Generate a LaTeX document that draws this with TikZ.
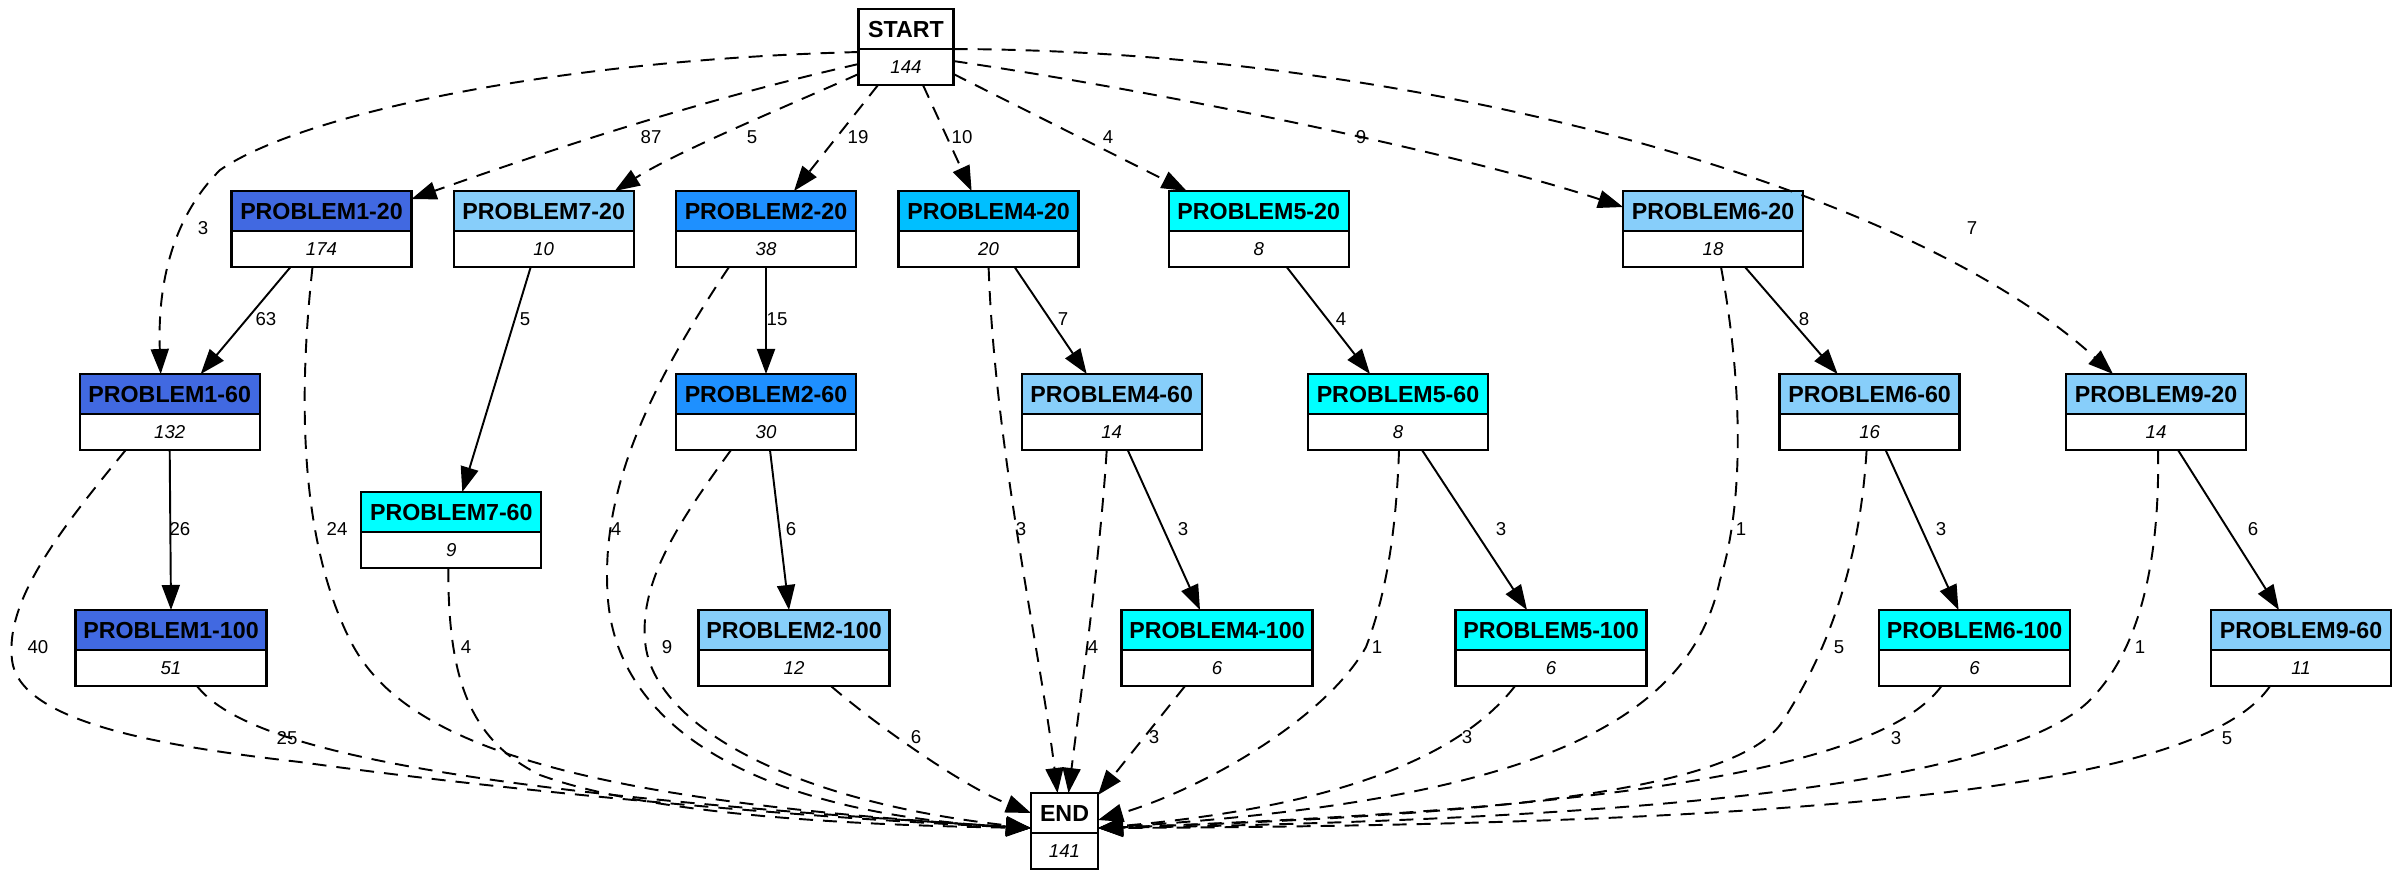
\documentclass[tikz,border=0pt]{standalone}
\usepackage{fontspec}
\setmainfont{Liberation Sans}
\usepackage{tikz}
\usetikzlibrary{arrows.meta,positioning,calc}
\definecolor{royal}{RGB}{65,105,225}
\definecolor{sky}{RGB}{135,206,250}
\definecolor{dodger}{RGB}{30,144,255}
\definecolor{deepsky}{RGB}{0,191,255}
\definecolor{aqua}{RGB}{0,255,255}

\begin{document}
\begin{tikzpicture}[x=0.01cm,y=-0.01cm,
  box/.style={draw,line width=0.65pt,inner sep=0pt,outer sep=0pt,minimum width=#1*0.01cm},
  hdr/.style={box=#1,minimum height=0.40cm,anchor=north,font=\fontsize{6.6}{7}\selectfont\bfseries},
  cnt/.style={box=#1,minimum height=0.36cm,fill=white,font=\fontsize{5.3}{6}\selectfont\itshape},
  elbl/.style={font=\fontsize{5.3}{6}\selectfont,inner sep=0pt},
  flow/.style={line width=0.55pt,-{Triangle[length=0.25cm,width=0.18cm]}},
  skip/.style={flow,dash pattern=on 0.14cm off 0.1cm}]
\useasboundingbox (0,0) rectangle (2400,878);
\foreach \n/\x/\y/\w/\c/\t/\v in {
  start/906/9/95/white/START/144,
  p1-20/321.5/191/180/royal/PROBLEM1-20/174,
  p7-20/543.7/191/180/sky/PROBLEM7-20/10,
  p2-20/766/191/180/dodger/PROBLEM2-20/38,
  p4-20/988.6/191/180/deepsky/PROBLEM4-20/20,
  p5-20/1258.7/191/180/aqua/PROBLEM5-20/8,
  p6-20/1713/191/180/sky/PROBLEM6-20/18,
  p1-60/169.7/374/180/royal/PROBLEM1-60/132,
  p2-60/766/374/180/dodger/PROBLEM2-60/30,
  p4-60/1111.7/374/180/sky/PROBLEM4-60/14,
  p5-60/1398/374/180/aqua/PROBLEM5-60/8,
  p6-60/1869.6/374/180/sky/PROBLEM6-60/16,
  p9-20/2156/374/180/sky/PROBLEM9-20/14,
  p7-60/451.3/492/180/aqua/PROBLEM7-60/9,
  p1-100/171/610/191/royal/PROBLEM1-100/51,
  p2-100/794/610/191/sky/PROBLEM2-100/12,
  p4-100/1217/610/191/aqua/PROBLEM4-100/6,
  p5-100/1551/610/191/aqua/PROBLEM5-100/6,
  p6-100/1974.5/610/191/aqua/PROBLEM6-100/6,
  p9-60/2301/610/180/sky/PROBLEM9-60/11,
  finish/1064.5/793/67/white/END/141}{
  \node[hdr=\w,fill=\c] (\n) at (\x,\y) {\t};
  \node[cnt=\w,below=0pt of \n] (\n-c) {\v};}
\coordinate (inL) at ($(finish.south west)+(0,-5)$);
\coordinate (inR) at ($(finish.south east)+(0,-5)$);
\draw[skip] ($(start-c.north west)+(0,3)$) .. controls (550,60) and (300,115) .. (220,170)
  .. controls (165,225) and (158,300) .. ($(p1-60.north)+(-9,0)$);
\draw[skip] ($(start-c.west)+(0,-3)$) .. controls (700,100) and (550,150) .. ($(p1-20.north east)+(0,8)$);
\draw[skip] ($(start-c.west)+(0,7)$) .. controls (790,105) and (680,150) .. ($(p7-20.north)+(71,0)$);
\draw[skip] ($(start-c.south)+(-28,0)$) -- ($(p2-20.north)+(28,0)$);
\draw[skip] ($(start-c.south)+(17,0)$) -- ($(p4-20.north)+(-17,0)$);
\draw[skip] ($(start-c.east)+(0,7)$) -- ($(p5-20.north)+(-72,0)$);
\draw[skip] ($(start-c.east)+(0,-6)$) .. controls (1150,90) and (1450,150) .. ($(p6-20.west)+(0,-4)$);
\draw[skip] (start-c.north east) .. controls (1400,50) and (1900,180) .. ($(p9-20.north)+(-43,0)$);
\draw[flow] ($(p1-20-c.south)+(-31,0)$) -- ($(p1-60.north)+(31,0)$);
\draw[flow] ($(p7-20-c.south)+(-13,0)$) -- ($(p7-60.north)+(11,0)$);
\draw[flow] (p2-20-c.south) -- (p2-60.north);
\draw[flow] ($(p4-20-c.south)+(26,0)$) -- ($(p4-60.north)+(-25,0)$);
\draw[flow] ($(p5-20-c.south)+(28,0)$) -- ($(p5-60.north)+(-28,0)$);
\draw[flow] ($(p6-20-c.south)+(32,0)$) -- ($(p6-60.north)+(-32,0)$);
\draw[flow] (p1-60-c.south) -- (p1-100.north);
\draw[flow] ($(p2-60-c.south)+(4,0)$) -- ($(p2-100.north)+(-5,0)$);
\draw[flow] ($(p4-60-c.south)+(16,0)$) -- ($(p4-100.north)+(-17,0)$);
\draw[flow] ($(p5-60-c.south)+(24,0)$) -- ($(p5-100.north)+(-24,0)$);
\draw[flow] ($(p6-60-c.south)+(16,0)$) -- ($(p6-100.north)+(-16,0)$);
\draw[flow] ($(p9-20-c.south)+(22,0)$) -- ($(p9-60.north)+(-22,0)$);
\draw[skip] ($(p1-60-c.south)+(-44,0)$) .. controls (60,530) and (5,600) .. (12,660)
  .. controls (19,720) and (150,745) .. (300,762) .. controls (500,790) and (800,818) .. (inL);
\draw[skip] ($(p1-20-c.south)+(-9,0)$) .. controls (298,400) and (300,540) .. (350,640)
  .. controls (400,740) and (560,800) .. (inL);
\draw[skip] ($(p1-100-c.south)+(26,0)$) .. controls (240,740) and (400,790) .. (inL);
\draw[skip] ($(p7-60-c.south)+(-3,0)$) .. controls (448,680) and (470,740) .. (540,775)
  .. controls (650,815) and (850,825) .. (inL);
\draw[skip] ($(p2-20-c.south)+(-37,0)$) .. controls (640,400) and (600,500) .. (608,600)
  .. controls (620,740) and (780,815) .. (inL);
\draw[skip] ($(p2-60-c.south)+(-35,0)$) .. controls (680,520) and (640,580) .. (645,640)
  .. controls (650,720) and (780,800) .. (inL);
\draw[skip] ($(p2-100-c.south)+(37,0)$) .. controls (870,720) and (960,785) .. (finish.west);
\draw[skip] (p4-20-c.south) .. controls (995,450) and (1040,650) .. ($(finish.north)+(-7,0)$);
\draw[skip] ($(p4-60-c.south)+(-5,0)$) .. controls (1100,560) and (1080,700) .. ($(finish.north)+(4,0)$);
\draw[skip] ($(p4-100-c.south)+(-32,0)$) -- ($(finish.north east)+(0,2)$);
\draw[skip] ($(p5-60-c.south)+(1,0)$) .. controls (1396,540) and (1384,600) .. (1366,647)
  .. controls (1325,720) and (1200,790) .. ($(finish.east)+(0,7)$);
\draw[skip] ($(p5-100-c.south)+(-36,0)$) .. controls (1450,770) and (1300,810) .. (inR);
\draw[skip] ($(p6-20-c.south)+(8,0)$) .. controls (1742,380) and (1745,500) .. (1720,580)
  .. controls (1690,720) and (1540,800) .. (inR);
\draw[skip] ($(p6-60-c.south)+(-3,0)$) .. controls (1860,560) and (1830,650) .. (1780,725)
  .. controls (1730,790) and (1500,815) .. (inR);
\draw[skip] ($(p6-100-c.south)+(-33,0)$) .. controls (1880,770) and (1600,810) .. (inR);
\draw[skip] ($(p9-20-c.south)+(2,0)$) .. controls (2160,560) and (2140,650) .. (2090,700)
  .. controls (2000,790) and (1600,820) .. (inR);
\draw[skip] ($(p9-60-c.south)+(-31,0)$) .. controls (2200,790) and (1800,825) .. (inR);
\foreach \x/\y/\t [count=\i] in {203/228/3, 651/137/87, 752/137/5, 858/137/19, 962/137/10,
  1108/137/4, 1361/137/9, 1972/228/7, 266/319/63, 525/319/5, 777/319/15, 1063/319/7,
  1341/319/4, 1804/319/8, 180/529/26, 337/529/24, 616/529/4, 791/529/6, 1021/529/3,
  1183/529/3, 1501/529/3, 1741/529/1, 1941/529/3, 2253/529/6, 38/647/40, 466/647/4,
  667/647/9, 1093/647/4, 1377/647/1, 1839/647/5, 2140/647/1, 287/738/25, 916/737/6,
  1154/737/3, 1467/737/3, 1896/738/3, 2227/738/5}
  \node[elbl] (lb\i) at (\x,\y) {\t};
\end{tikzpicture}
\end{document}
